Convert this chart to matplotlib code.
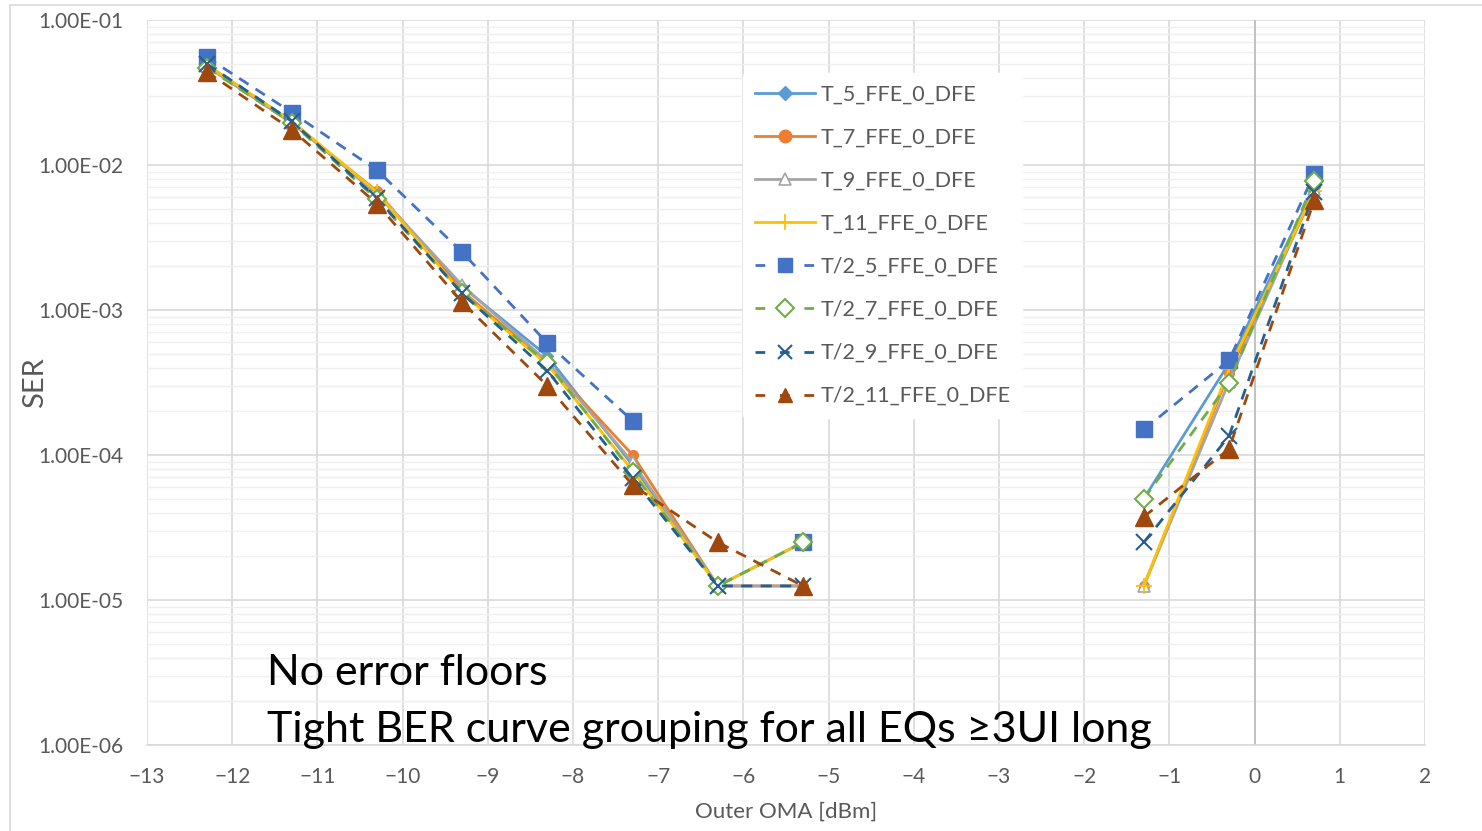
import numpy as np
import matplotlib
matplotlib.use("Agg")
import matplotlib.pyplot as plt
from matplotlib.patches import Rectangle

plt.rcParams['font.family'] = ['Lato', 'DejaVu Sans']

# --- data ---
oma = [-12.3, -11.3, -10.3, -9.3, -8.3, -7.3, -6.3, -5.3, -4.3, -3.3, -2.3, -1.3, -0.3, 0.7]
nan = np.nan

t_5 = [4.9e-2, 2.0e-2, 6.3e-3, 1.45e-3, 4.8e-4, 8.5e-5, 1.25e-5, 2.5e-5, nan, nan, nan, 5.0e-5, 4.3e-4, 7.0e-3]
t_7 = [4.8e-2, 1.95e-2, 6.6e-3, 1.35e-3, 4.3e-4, 1.0e-4, 1.25e-5, 1.25e-5, nan, nan, nan, 1.25e-5, 3.7e-4, 6.5e-3]
t_9 = [4.8e-2, 1.95e-2, 6.4e-3, 1.48e-3, 4.4e-4, 8.9e-5, 1.25e-5, 1.25e-5, nan, nan, nan, 1.25e-5, 3.2e-4, 6.8e-3]
t_11 = [4.9e-2, 2.0e-2, 6.5e-3, 1.3e-3, 4.2e-4, 7.8e-5, 1.25e-5, 2.5e-5, nan, nan, nan, 1.25e-5, 3.9e-4, 6.6e-3]
t2_5 = [5.55e-2, 2.3e-2, 9.2e-3, 2.5e-3, 5.9e-4, 1.72e-4, nan, 2.5e-5, nan, nan, nan, 1.5e-4, 4.5e-4, 8.7e-3]
t2_7 = [4.7e-2, 1.95e-2, 5.8e-3, 1.3e-3, 4.3e-4, 7.6e-5, 1.25e-5, 2.5e-5, nan, nan, nan, 5.0e-5, 3.15e-4, 7.8e-3]
t2_9 = [5.0e-2, 2.0e-2, 5.9e-3, 1.3e-3, 3.8e-4, 6.9e-5, 1.25e-5, 1.25e-5, nan, nan, nan, 2.5e-5, 1.35e-4, 6.5e-3]
t2_11 = [4.4e-2, 1.75e-2, 5.4e-3, 1.13e-3, 3.0e-4, 6.2e-5, 2.5e-5, 1.25e-5, nan, nan, nan, 3.75e-5, 1.1e-4, 5.7e-3]

labels = ["T_5_FFE_0_DFE", "T_7_FFE_0_DFE", "T_9_FFE_0_DFE", "T_11_FFE_0_DFE",
          "T/2_5_FFE_0_DFE", "T/2_7_FFE_0_DFE", "T/2_9_FFE_0_DFE", "T/2_11_FFE_0_DFE"]
series = [t_5, t_7, t_9, t_11, t2_5, t2_7, t2_9, t2_11]

x_ticks = list(range(-13, 3))
y_ticks = [1e-6, 1e-5, 1e-4, 1e-3, 1e-2, 1e-1]
y_ticklabels = ["1.00E-06", "1.00E-05", "1.00E-04", "1.00E-03", "1.00E-02", "1.00E-01"]

# --- styles ---
styles = [
    dict(color="#5B9BD5", ls="-", marker="D", ms=6, mfc="#5B9BD5", mew=1),
    dict(color="#ED7D31", ls="-", marker="o", ms=7, mfc="#ED7D31", mew=1),
    dict(color="#A5A5A5", ls="-", marker="^", ms=8, mfc="white", mew=1.2),
    dict(color="#FFC000", ls="-", marker="+", ms=11, mfc="#FFC000", mew=1.3),
    dict(color="#4472C4", ls=(0, (4, 3)), marker="s", ms=12, mfc="#4472C4", mew=1),
    dict(color="#70AD47", ls=(0, (4, 3)), marker="D", ms=9, mfc="white", mew=1.5),
    dict(color="#255E91", ls=(0, (4, 3)), marker="x", ms=11, mfc="#255E91", mew=1.5),
    dict(color="#9E480E", ls=(0, (4, 3)), marker="^", ms=13, mfc="#9E480E", mew=1),
]
legend_ms = [7, 9, 9, 11, 10, 9, 10, 10]

fig = plt.figure(figsize=(14.82, 8.31), dpi=100)
ax = fig.add_axes([147 / 1482, 1 - 745 / 831, 1278 / 1482, 725 / 831])

for y, lab, st in zip(series, labels, styles):
    ax.plot(oma, y, label=lab, lw=2.0, color=st["color"], linestyle=st["ls"],
            marker=st["marker"], markersize=st["ms"], markerfacecolor=st["mfc"],
            markeredgecolor=st["color"], markeredgewidth=st["mew"], zorder=3)

ax.set_yscale("log")
ax.set_xlim(-13, 2)
ax.set_ylim(1e-6, 1e-1)
ax.set_xticks(x_ticks)
ax.set_yticks(y_ticks)
ax.set_yticklabels(y_ticklabels)
ax.yaxis.set_minor_locator(matplotlib.ticker.LogLocator(base=10, subs=np.arange(2, 10)))
ax.yaxis.set_minor_formatter(matplotlib.ticker.NullFormatter())

ax.grid(True, which="major", color="#D9D9D9", lw=1.2, zorder=0)
ax.grid(True, which="minor", axis="y", color="#EFEFEF", lw=1.0, zorder=0)
ax.axvline(0, color="#BFBFBF", lw=1.3, zorder=1)
ax.set_axisbelow(True)

for s in ["top", "right", "left"]:
    ax.spines[s].set_visible(False)
ax.spines["bottom"].set_color("#D9D9D9")
ax.spines["bottom"].set_linewidth(1.2)
ax.tick_params(which="both", length=0, labelsize=15, colors="#595959")
ax.tick_params(axis="x", pad=16)
ax.tick_params(axis="y", pad=17)

ax.set_xlabel("Outer OMA [dBm]", fontsize=16, color="#595959", va="center")
ax.set_ylabel("SER", fontsize=21, color="#595959", va="center")
ax.xaxis.set_label_coords(0.5, (745 - 812) / 725)
ax.yaxis.set_label_coords((35 - 147) / 1278, 0.5)

ax.text(0.094, 0.083, "No error floors", transform=ax.transAxes, fontsize=31,
        color="black", va="baseline", ha="left", zorder=5)
ax.text(0.094, 0.004, "Tight BER curve grouping for all EQs ≥3UI long", transform=ax.transAxes,
        fontsize=31, color="black", va="baseline", ha="left", zorder=5)

leg = ax.legend(loc="upper left", bbox_to_anchor=(743 / 1482, 1 - 73 / 831),
                bbox_transform=fig.transFigure, frameon=True, fontsize=15.5,
                labelcolor="#595959", numpoints=1, handlelength=2.8,
                handletextpad=0.25, labelspacing=1.07, borderpad=0.55,
                borderaxespad=0)
leg.get_frame().set_edgecolor("white")
leg.get_frame().set_facecolor("white")
leg.get_frame().set_alpha(1)
for h, ms, st in zip(leg.legend_handles, legend_ms, styles):
    h.set_markersize(ms)
    if st["ls"] != "-":
        h.set_linestyle((0, (3.5, 5.3)))

# outer chart-area border
fig.patches.append(Rectangle((10 / 1482, -0.01), 1.1, 1 - 5 / 831 + 0.01, transform=fig.transFigure,
                             fill=False, edgecolor="#D9D9D9", lw=1.2))

fig.savefig("out.png", dpi=100)
